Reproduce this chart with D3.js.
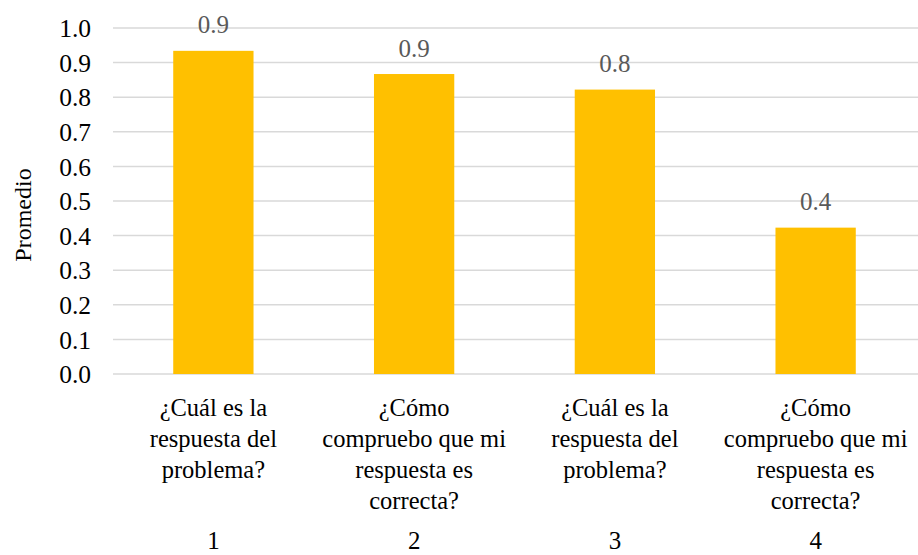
<!DOCTYPE html>
<html><head><meta charset="utf-8">
<script src="https://cdn.jsdelivr.net/npm/d3@7"></script>
<style>body{margin:0;background:#fff}svg{display:block}</style>
</head><body>
<script>
const categories = ["1","2","3","4"];
const questions = [
  ["¿Cuál es la","respuesta del","problema?"],
  ["¿Cómo","compruebo que mi","respuesta es","correcta?"],
  ["¿Cuál es la","respuesta del","problema?"],
  ["¿Cómo","compruebo que mi","respuesta es","correcta?"]
];
const values = [0.934, 0.867, 0.822, 0.423];
const yTicks = [0,0.1,0.2,0.3,0.4,0.5,0.6,0.7,0.8,0.9,1.0];

const W=918,H=555;
const svg=d3.select("body").append("svg").attr("width",W).attr("height",H);
const pLeft=113,pRight=916,pTop=28,pBottom=374;
const x=d3.scaleBand().domain(categories).range([pLeft,pRight]).paddingInner(0.6).paddingOuter(0.3);
const y=d3.scaleLinear().domain([0,1]).range([pBottom,pTop]);
const font="Liberation Serif, Times New Roman, DejaVu Serif, serif";

// gridlines
svg.append("g").selectAll("line").data(yTicks).join("line")
  .attr("x1",pLeft).attr("x2",W).attr("y1",d=>y(d)).attr("y2",d=>y(d))
  .attr("stroke","#d9d9d9").attr("stroke-width",1.5);

// y axis labels
const yAxis=d3.axisLeft(y).tickValues(yTicks).tickFormat(d3.format(".1f")).tickSize(0).tickPadding(0);
const ya=svg.append("g").attr("transform",`translate(91,0)`).call(yAxis);
ya.select(".domain").remove();
ya.selectAll("text").attr("font-family",font).attr("font-size",25.5).attr("fill","#000").attr("dy","0.34em");

// bars
svg.append("g").selectAll("rect").data(values).join("rect")
  .attr("x",(d,i)=>x(categories[i])).attr("width",x.bandwidth())
  .attr("y",d=>y(d)).attr("height",d=>y(0)-y(d)).attr("fill","#ffc000");

// data labels
svg.append("g").selectAll("text").data(values).join("text")
  .attr("x",(d,i)=>x(categories[i])+x.bandwidth()/2).attr("y",d=>y(d)-17.5)
  .attr("text-anchor","middle").attr("font-family",font).attr("font-size",25).attr("fill","#595959")
  .text(d=>d3.format(".1f")(d));

// category labels
const cg=svg.append("g");
questions.forEach((lines,i)=>{
  const cx=x(categories[i])+x.bandwidth()/2;
  const t=cg.append("text").attr("text-anchor","middle").attr("font-family",font).attr("font-size",24.5).attr("fill","#000");
  lines.forEach((l,j)=>t.append("tspan").attr("x",cx).attr("y",416+j*31).text(l));
  cg.append("text").attr("x",cx).attr("y",549).attr("text-anchor","middle")
    .attr("font-family",font).attr("font-size",25).attr("fill","#000").text(categories[i]);
});

// y title
svg.append("text").attr("transform","translate(31,215) rotate(-90)").attr("text-anchor","middle")
  .attr("font-family",font).attr("font-size",24).attr("fill","#000").text("Promedio");
</script>
</body></html>
